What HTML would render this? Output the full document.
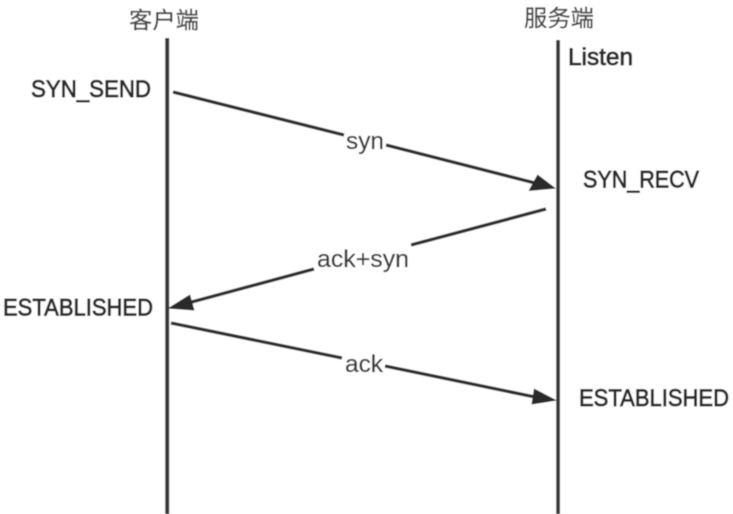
<!DOCTYPE html>
<html>
<head>
<meta charset="utf-8">
<style>
html,body{margin:0;padding:0;background:#fff;}
svg{display:block;}
text{font-family:"Liberation Sans","Noto Sans CJK SC",sans-serif;fill:#2b2b2b;}
</style>
</head>
<body>
<svg width="733" height="514" viewBox="0 0 733 514" xmlns="http://www.w3.org/2000/svg">
<defs><filter id="b" x="0" y="0" width="100%" height="100%"><feGaussianBlur stdDeviation="0.4"/></filter></defs>
<g filter="url(#b)">
<rect width="733" height="514" fill="#fff"/>
<rect x="165.2" y="38" width="4" height="476" fill="#383838"/>
<rect x="556.2" y="40" width="3.8" height="474" fill="#383838"/>

<g stroke="#2e2e2e" stroke-width="3.4" fill="none">
<line x1="173" y1="92" x2="344" y2="135"/>
<line x1="386" y1="145" x2="535" y2="183"/>
<line x1="546" y1="209" x2="411" y2="245"/>
<line x1="314" y1="269" x2="188" y2="303"/>
<line x1="171" y1="323" x2="342" y2="358"/>
<line x1="385" y1="366" x2="535" y2="397"/>
</g>
<g fill="#2a2a2a">
<polygon points="556,188.5 528.5,191 537.5,174.5"/>
<polygon points="167.5,308.5 190,294.5 194.5,310.5"/>
<polygon points="557,400.5 531.5,404.5 534,388.5"/>
</g>

<text x="129" y="28" font-size="23" textLength="70" lengthAdjust="spacingAndGlyphs" stroke="#444" stroke-width="0.25" style="fill:#444">客户端</text>
<text x="524" y="26" font-size="23" textLength="70" lengthAdjust="spacingAndGlyphs" stroke="#444" stroke-width="0.25" style="fill:#444">服务端</text>

<g font-size="24.5" stroke="#2b2b2b" stroke-width="0.9">
<text x="568" y="65" textLength="65" lengthAdjust="spacingAndGlyphs">Listen</text>
<text x="31" y="97" textLength="120" lengthAdjust="spacingAndGlyphs">SYN_SEND</text>
<text x="583" y="187.5" textLength="116" lengthAdjust="spacingAndGlyphs">SYN_RECV</text>
<text x="3" y="315.5" textLength="150" lengthAdjust="spacingAndGlyphs">ESTABLISHED</text>
<text x="579" y="406" textLength="150" lengthAdjust="spacingAndGlyphs">ESTABLISHED</text>
</g>

<g font-size="24.5" stroke="#3a3a3a" stroke-width="0.25">
<text x="346" y="149" textLength="38" lengthAdjust="spacingAndGlyphs" style="fill:#3a3a3a">syn</text>
<text x="317" y="267" textLength="92" lengthAdjust="spacingAndGlyphs" style="fill:#3a3a3a">ack+syn</text>
<text x="345" y="372" textLength="38" lengthAdjust="spacingAndGlyphs" style="fill:#3a3a3a">ack</text>
</g>
</g>
</svg>
</body>
</html>
